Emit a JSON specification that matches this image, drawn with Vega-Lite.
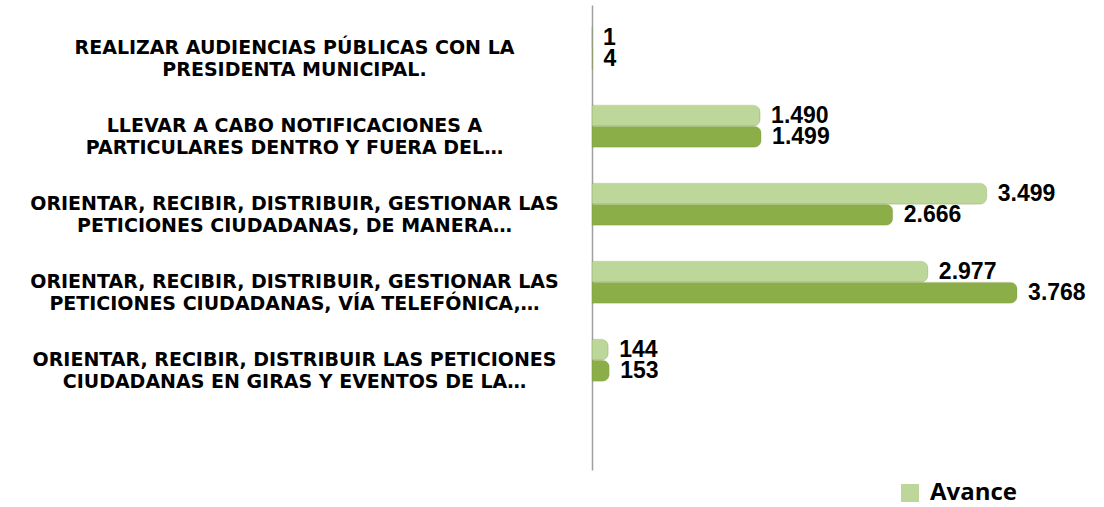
{
  "$schema": "https://vega.github.io/schema/vega-lite/v6.json",
  "autosize": "none",
  "width": 440,
  "height": 465,
  "padding": {"left": 592, "top": 5, "right": 72, "bottom": 37},
  "background": "white",
  "config": {
    "view": {"stroke": null},
    "locale": {"number": {"decimal": ",", "thousands": ".", "grouping": [3], "currency": ["$", ""]}}
  },
  "data": {
    "values": [
      {"actividad": "REALIZAR AUDIENCIAS PÚBLICAS CON LA|PRESIDENTA MUNICIPAL.", "serie": "Avance", "valor": 1},
      {"actividad": "REALIZAR AUDIENCIAS PÚBLICAS CON LA|PRESIDENTA MUNICIPAL.", "serie": "Meta", "valor": 4},
      {"actividad": "LLEVAR A CABO NOTIFICACIONES A|PARTICULARES DENTRO Y FUERA DEL…", "serie": "Avance", "valor": 1490},
      {"actividad": "LLEVAR A CABO NOTIFICACIONES A|PARTICULARES DENTRO Y FUERA DEL…", "serie": "Meta", "valor": 1499},
      {"actividad": "ORIENTAR, RECIBIR,  DISTRIBUIR, GESTIONAR LAS|PETICIONES CIUDADANAS, DE MANERA…", "serie": "Avance", "valor": 3499},
      {"actividad": "ORIENTAR, RECIBIR,  DISTRIBUIR, GESTIONAR LAS|PETICIONES CIUDADANAS, DE MANERA…", "serie": "Meta", "valor": 2666},
      {"actividad": "ORIENTAR, RECIBIR,  DISTRIBUIR, GESTIONAR LAS|PETICIONES CIUDADANAS, VÍA TELEFÓNICA,…", "serie": "Avance", "valor": 2977},
      {"actividad": "ORIENTAR, RECIBIR,  DISTRIBUIR, GESTIONAR LAS|PETICIONES CIUDADANAS, VÍA TELEFÓNICA,…", "serie": "Meta", "valor": 3768},
      {"actividad": "ORIENTAR, RECIBIR, DISTRIBUIR LAS PETICIONES|CIUDADANAS EN GIRAS Y EVENTOS DE LA…", "serie": "Avance", "valor": 144},
      {"actividad": "ORIENTAR, RECIBIR, DISTRIBUIR LAS PETICIONES|CIUDADANAS EN GIRAS Y EVENTOS DE LA…", "serie": "Meta", "valor": 153}
    ]
  },
  "encoding": {
    "y": {
      "field": "actividad",
      "type": "nominal",
      "sort": null,
      "scale": {"paddingInner": 0.46, "paddingOuter": 0.71, "align": 0.2},
      "axis": {
        "title": null,
        "ticks": false,
        "domain": true,
        "domainColor": "#a0a0a0",
        "domainWidth": 1.5,
        "labelExpr": "split(datum.label, '|')",
        "labelAlign": "center",
        "labelBaseline": "middle",
        "labelPadding": 298,
        "labelLimit": 700,
        "labelFont": "DejaVu Sans",
        "labelFontWeight": "bold",
        "labelFontSize": 19,
        "labelLineHeight": 22,
        "labelColor": "black"
      }
    },
    "yOffset": {"field": "serie", "type": "nominal", "sort": ["Avance", "Meta"]},
    "x": {
      "field": "valor",
      "type": "quantitative",
      "scale": {"domain": [0, 3900]},
      "axis": null
    }
  },
  "layer": [
    {
      "mark": {"type": "bar", "cornerRadiusEnd": 7, "stroke": "#7f9a45", "strokeWidth": 0.5, "strokeOpacity": 0.5},
      "encoding": {
        "color": {
          "field": "serie",
          "type": "nominal",
          "scale": {"domain": ["Avance", "Meta"], "range": ["#bdd69a", "#8cae48"]},
          "legend": {
            "values": ["Avance"],
            "title": null,
            "orient": "none",
            "legendX": 306,
            "legendY": 476,
            "padding": 0,
            "symbolType": "square",
            "symbolSize": 324,
            "symbolStrokeWidth": 0,
            "labelFont": "Open Sans",
            "labelFontWeight": "bold",
            "labelFontSize": 24,
            "labelColor": "black",
            "labelOffset": 8
          }
        }
      }
    },
    {
      "mark": {"type": "text", "align": "left", "baseline": "middle", "dx": 11, "font": "Liberation Sans", "fontWeight": "bold", "fontSize": 23, "color": "black"},
      "encoding": {
        "text": {"field": "valor", "type": "quantitative", "format": ",d"}
      }
    }
  ]
}
